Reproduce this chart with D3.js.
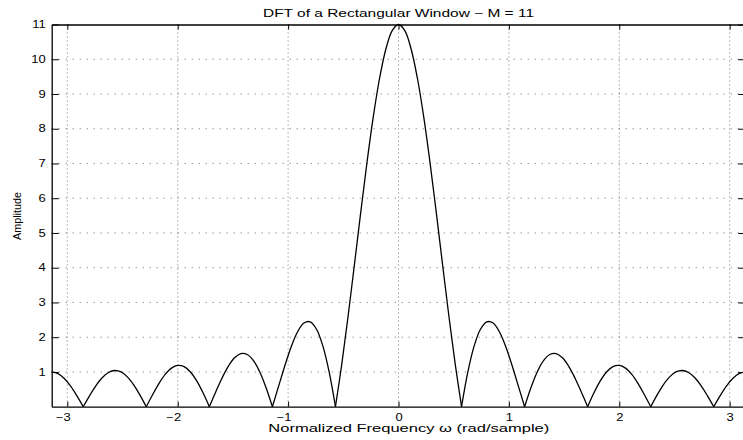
<!DOCTYPE html>
<html>
<head>
<meta charset="utf-8">
<script src="https://cdn.jsdelivr.net/npm/d3@7"></script>
<style>
  body { margin: 0; background: #fff; overflow: hidden; }
  svg { display: block; font-family: "Liberation Sans", Arial, Helvetica, sans-serif; }
</style>
</head>
<body>
<div id="chart"></div>
<script>
var amplitude = [
  1.000, 0.951, 0.810, 0.590, 0.311, 0,
  0.314, 0.600, 0.831, 0.983, 1.042, 1.000, 0.859, 0.631, 0.335, 0,
  0.344, 0.665, 0.929, 1.111, 1.189, 1.152, 1.000, 0.742, 0.399, 0,
  0.419, 0.820, 1.161, 1.407, 1.527, 1.502, 1.325, 1.000, 0.547, 0,
  0.598, 1.195, 1.734, 2.156, 2.407, 2.443, 2.230, 1.749, 1.000, 0,
  1.216, 2.595, 4.074, 5.577, 7.027, 8.343, 9.453, 10.296, 10.822,
  11.000,
  10.822, 10.296, 9.453, 8.343, 7.027, 5.577, 4.074, 2.595, 1.216,
  0, 1.000, 1.749, 2.230, 2.443, 2.407, 2.156, 1.734, 1.195, 0.598,
  0, 0.547, 1.000, 1.325, 1.502, 1.527, 1.407, 1.161, 0.820, 0.419,
  0, 0.399, 0.742, 1.000, 1.152, 1.189, 1.111, 0.929, 0.665, 0.344,
  0, 0.335, 0.631, 0.859, 1.000, 1.042, 0.983, 0.831, 0.600, 0.314,
  0, 0.311, 0.590, 0.810, 0.951, 1.000
];
var omegaStart = -Math.PI;
var omegaStep = Math.PI / 55;

var xTicks = [-3, -2, -1, 0, 1, 2, 3];
var yTicks = [1, 2, 3, 4, 5, 6, 7, 8, 9, 10, 11];

var titleText = "DFT of a Rectangular Window \u2212 M = 11";
var xLabel = "Normalized Frequency \u03c9 (rad/sample)";
var yLabel = "Amplitude";

function init() {
    var w = 743, h = 440;
    var left = 51.7, right = 745.3, top = 24.5, bottom = 406.7;
    var sx = 1.3; // the original text is drawn wide

    var svg = d3.select("#chart").append("svg")
        .attr("width", w)
        .attr("height", h);

    var x = d3.scaleLinear().domain([-Math.PI, Math.PI]).range([left, right]);
    var y = d3.scaleLinear().domain([0, 11]).range([bottom, top]);

    // grid
    svg.append("g").selectAll("line")
        .data(xTicks)
        .enter().append("line")
        .attr("x1", function(d) { return x(d); })
        .attr("x2", function(d) { return x(d); })
        .attr("y1", top)
        .attr("y2", bottom)
        .attr("stroke", "#555")
        .attr("stroke-width", 0.8)
        .attr("stroke-dasharray", "1,3");

    svg.append("g").selectAll("line")
        .data(yTicks.slice(0, -1))
        .enter().append("line")
        .attr("x1", left)
        .attr("x2", right)
        .attr("y1", function(d) { return y(d); })
        .attr("y2", function(d) { return y(d); })
        .attr("stroke", "#444")
        .attr("stroke-width", 0.8)
        .attr("stroke-dasharray", "1,6");

    // curve, one lobe per segment so the zeros stay sharp
    var pts = amplitude.map(function(v, i) { return [omegaStart + i * omegaStep, v]; });
    var lobes = [], cur = [];
    pts.forEach(function(p, i) {
        cur.push(p);
        if (p[1] === 0 && i > 0) {
            lobes.push(cur);
            cur = [p];
        }
    });
    lobes.push(cur);

    var line = d3.line()
        .x(function(d) { return x(d[0]); })
        .y(function(d) { return y(d[1]); })
        .curve(d3.curveCatmullRom.alpha(0.5));

    svg.append("g").selectAll("path")
        .data(lobes)
        .enter().append("path")
        .attr("d", line)
        .attr("fill", "none")
        .attr("stroke", "#000")
        .attr("stroke-width", 1.3);

    // axes with inward ticks (matlab style)
    var xBottom = d3.axisBottom(x).tickValues(xTicks).tickSizeInner(-5).tickSizeOuter(0)
        .tickPadding(7).tickFormat(function(d) { return d < 0 ? "\u2212" + Math.abs(d) : d; });
    var gx = svg.append("g").attr("transform", "translate(0," + bottom + ")").call(xBottom);

    var xTop = d3.axisTop(x).tickValues(xTicks).tickSizeInner(-5).tickSizeOuter(0).tickFormat("");
    var gxt = svg.append("g").attr("transform", "translate(0," + top + ")").call(xTop);

    var yLeft = d3.axisLeft(y).tickValues(yTicks).tickSizeInner(-7).tickSizeOuter(0);
    var gy = svg.append("g").attr("transform", "translate(" + left + ",0)").call(yLeft);

    var yRight = d3.axisRight(y).tickValues(yTicks).tickSizeInner(-7).tickSizeOuter(0).tickFormat("");
    var gyr = svg.append("g").attr("transform", "translate(" + right + ",0)").call(yRight);

    [gx, gxt, gy, gyr].forEach(function(g) {
        g.select(".domain").attr("stroke", "#000").attr("stroke-width", 1.3);
        g.selectAll(".tick line").attr("stroke", "#000").attr("stroke-width", 1);
        g.selectAll("text").attr("fill", "#000").attr("font-size", "10px")
            .attr("font-family", "'Liberation Sans', Arial, sans-serif")
            .attr("transform", "scale(" + sx + ",1)");
    });

    // negative labels: digit sits on the tick, minus hangs left
    gx.selectAll(".tick text")
        .attr("dx", function(d) { return d < 0 ? -4.5 / sx : 0; });
    gy.selectAll(".tick text")
        .attr("x", -6 / sx);

    // labels
    svg.append("text")
        .attr("x", (left + right) / 2)
        .attr("y", 16.5)
        .attr("text-anchor", "middle")
        .attr("font-size", "10.5px")
        .attr("textLength", 271)
        .attr("lengthAdjust", "spacingAndGlyphs")
        .text(titleText);

    svg.append("text")
        .attr("x", 268.3)
        .attr("y", 431.5)
        .attr("font-size", "11px")
        .attr("textLength", 281)
        .attr("lengthAdjust", "spacingAndGlyphs")
        .text(xLabel);

    svg.append("text")
        .attr("transform", "translate(21,216) rotate(-90)")
        .attr("text-anchor", "middle")
        .attr("font-size", "11px")
        .attr("textLength", 48)
        .attr("lengthAdjust", "spacingAndGlyphs")
        .text(yLabel);
}

window.onload = init;
</script>
</body>
</html>
